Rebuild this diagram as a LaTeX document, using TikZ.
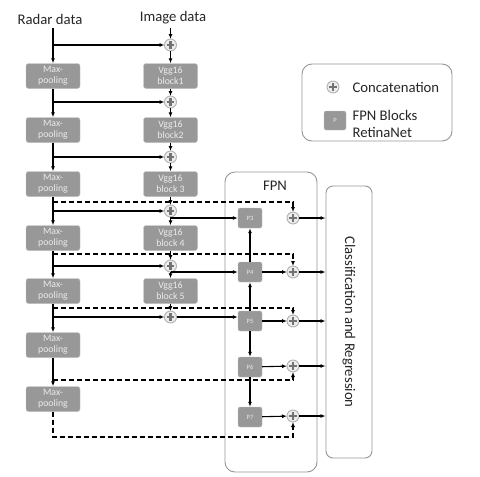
\documentclass[tikz,border=0pt]{standalone}
\usepackage{fontspec}
\setmainfont{Carlito}
\usetikzlibrary{arrows.meta}
\definecolor{boxgray}{RGB}{152,152,152}
\definecolor{boxtext}{RGB}{235,235,235}
\definecolor{framegray}{RGB}{150,150,150}

\begin{document}
\begin{tikzpicture}[x=1pt,y=-1pt,
    blk/.style={rectangle, rounded corners=2.5pt, fill=boxgray, draw=boxgray!60!white, text=boxtext,
        minimum width=54pt, minimum height=25pt, inner sep=0pt, align=center,
        font=\fontsize{9.8}{11.2}\selectfont},
    pblk/.style={rectangle, rounded corners=2pt, fill=boxgray, draw=boxgray!60!white, text=boxtext,
        minimum width=24pt, minimum height=20pt, inner sep=0pt, font=\fontsize{6.5}{7}\selectfont},
    cat/.style={circle, minimum size=12pt, inner sep=0pt, outer sep=0pt, draw=gray!60, fill=gray!15,
        line width=0.9pt,
        path picture={
            \draw[line width=2.6pt, gray!90!black] ([xshift=-3.6pt]path picture bounding box.center)
                -- ([xshift=3.6pt]path picture bounding box.center);
            \draw[line width=2.6pt, gray!90!black] ([yshift=-3.6pt]path picture bounding box.center)
                -- ([yshift=3.6pt]path picture bounding box.center);}},
    arr/.style={-{Latex[length=5pt,width=4pt]}, line width=1.1pt},
    dsh/.style={arr, dash pattern=on 5pt off 3pt},
    frame/.style={draw=framegray, rounded corners=10pt, line width=0.9pt, inner sep=0pt},
    lbl/.style={font=\fontsize{14.7}{17}\selectfont, text=black!85}
]
\useasboundingbox (0,0) rectangle (480,477);

    % inputs
    \node[lbl] (Radar) at (50,19) {Radar data};
    \node[lbl] (Image) at (173,18) {Image data};

    % radar branch
    \node[blk] (MP1) at (53,76) {Max-\\pooling};
    \node[blk] (MP2) at (53,130) {Max-\\pooling};
    \node[blk] (MP3) at (53,184) {Max-\\pooling};
    \node[blk] (MP4) at (53,238) {Max-\\pooling};
    \node[blk] (MP5) at (53,291) {Max-\\pooling};
    \node[blk] (MP6) at (53,345) {Max-\\pooling};
    \node[blk] (MP7) at (53,399) {Max-\\pooling};

    % image branch
    \node[blk] (Vgg1) at (170.5,76) {Vgg16\\block1};
    \node[blk] (Vgg2) at (170.5,130) {Vgg16\\block2};
    \node[blk] (Vgg3) at (170.5,184) {Vgg16\\block 3};
    \node[blk] (Vgg4) at (170.5,238) {Vgg16\\block 4};
    \node[blk] (Vgg5) at (170.5,291) {Vgg16\\block 5};

    \node[cat] (C0) at (170.5,45) {};
    \node[cat] (C1) at (170.5,102) {};
    \node[cat] (C2) at (170.5,157) {};
    \node[cat] (C3) at (170.5,211) {};
    \node[cat] (C4) at (170.5,266) {};
    \node[cat] (C5) at (170.5,317) {};

    % FPN
    \node[frame, minimum width=92pt, minimum height=300pt] (FPN) at (271,322) {};
    \node[lbl] (FPNtitle) at (275,186) {FPN};
    \node[pblk] (P3) at (250,218) {P3};
    \node[pblk] (P4) at (250,272) {P4};
    \node[pblk] (P5) at (250,321) {P5};
    \node[pblk] (P6) at (250,367) {P6};
    \node[pblk] (P7) at (250,417) {P7};

    \node[cat] (F3) at (293,218) {};
    \node[cat] (F4) at (293,272) {};
    \node[cat] (F5) at (293,321) {};
    \node[cat] (F6) at (293,366) {};
    \node[cat] (F7) at (293,416) {};

    \node[frame, rounded corners=7pt, minimum width=46pt, minimum height=272pt] (Cls) at (349,322) {};
    \node[lbl, rotate=-90] (ClsText) at (Cls) {Classification and Regression};

    % legend
    \node[frame, minimum width=150pt, minimum height=77pt] (Legend) at (377,102.5) {};
    \node[cat] (LegCat) at (333,87) {};
    \node[lbl, anchor=west] (LegCatText) at (349,87) {Concatenation};
    \node[pblk, minimum width=22pt, minimum height=19pt] (LegP) at (335,120.5) {P};
    \node[lbl, anchor=west, align=left] (LegPText) at (349,124) {FPN Blocks\\RetinaNet};

    \coordinate (D3) at (53,202);
    \coordinate (D4) at (53,254);
    \coordinate (D5) at (53,308);
    \coordinate (D6) at (53,380);
    \coordinate (D7) at (293,437);

    \draw[arr] (MP1 |- Radar.south) to (MP1);
    \draw[arr] (MP1) to (MP2);
    \draw[arr] (MP2) to (MP3);
    \draw[arr] (MP3) to (MP4);
    \draw[arr] (MP4) to (MP5);
    \draw[arr] (MP5) to (MP6);
    \draw[arr] (MP6) to (MP7);

    \draw[arr] (C0 |- Image.south) to (C0);
    \draw[arr] (C0) to (Vgg1);
    \draw[arr] (Vgg1) to (C1);
    \draw[arr] (C1) to (Vgg2);
    \draw[arr] (Vgg2) to (C2);
    \draw[arr] (C2) to (Vgg3);
    \draw[arr] (Vgg3) to (C3);
    \draw[arr] (C3) to (Vgg4);
    \draw[arr] (Vgg4) to (C4);
    \draw[arr] (C4) to (Vgg5);
    \draw[arr] (Vgg5) to (C5);

    \draw[arr] (MP1 |- C0) to (C0);
    \draw[arr] (MP1 |- C1) to (C1);
    \draw[arr] (MP2 |- C2) to (C2);
    \draw[arr] (MP3 |- C3) to (C3);
    \draw[arr] (MP4 |- C4) to (C4);
    \draw[arr] (MP5 |- C5) to (C5);

    \draw[dsh] (D3) -| (F3);
    \draw[dsh] (D4) -| (F4);
    \draw[dsh] (D5) -| (F5);
    \draw[dsh] (D6) -| (F6);
    \draw[dsh] (MP7) |- (D7) -- (F7);

    \draw[arr] (C3 |- P3) to (P3);
    \draw[arr] (C4 |- P4) to (P4);
    \draw[arr] (C5) to (C5 -| P5.west);

    \draw[arr] (P4) to (P3);
    \draw[arr] (P5) to (P4);
    \draw[arr] (P5) to (P6);
    \draw[arr] (P6) to (P7);

    \draw[arr] (P4) to (F4);
    \draw[arr] (P5) to (F5);
    \draw[arr] (P6) to (F6);
    \draw[arr] (P7) to (F7);

    \draw[arr] (F3) to (F3 -| Cls.west);
    \draw[arr] (F4) to (F4 -| Cls.west);
    \draw[arr] (F5) to (F5 -| Cls.west);
    \draw[arr] (F6) to (F6 -| Cls.west);
    \draw[arr] (F7) to (F7 -| Cls.west);

\end{tikzpicture}
\end{document}
